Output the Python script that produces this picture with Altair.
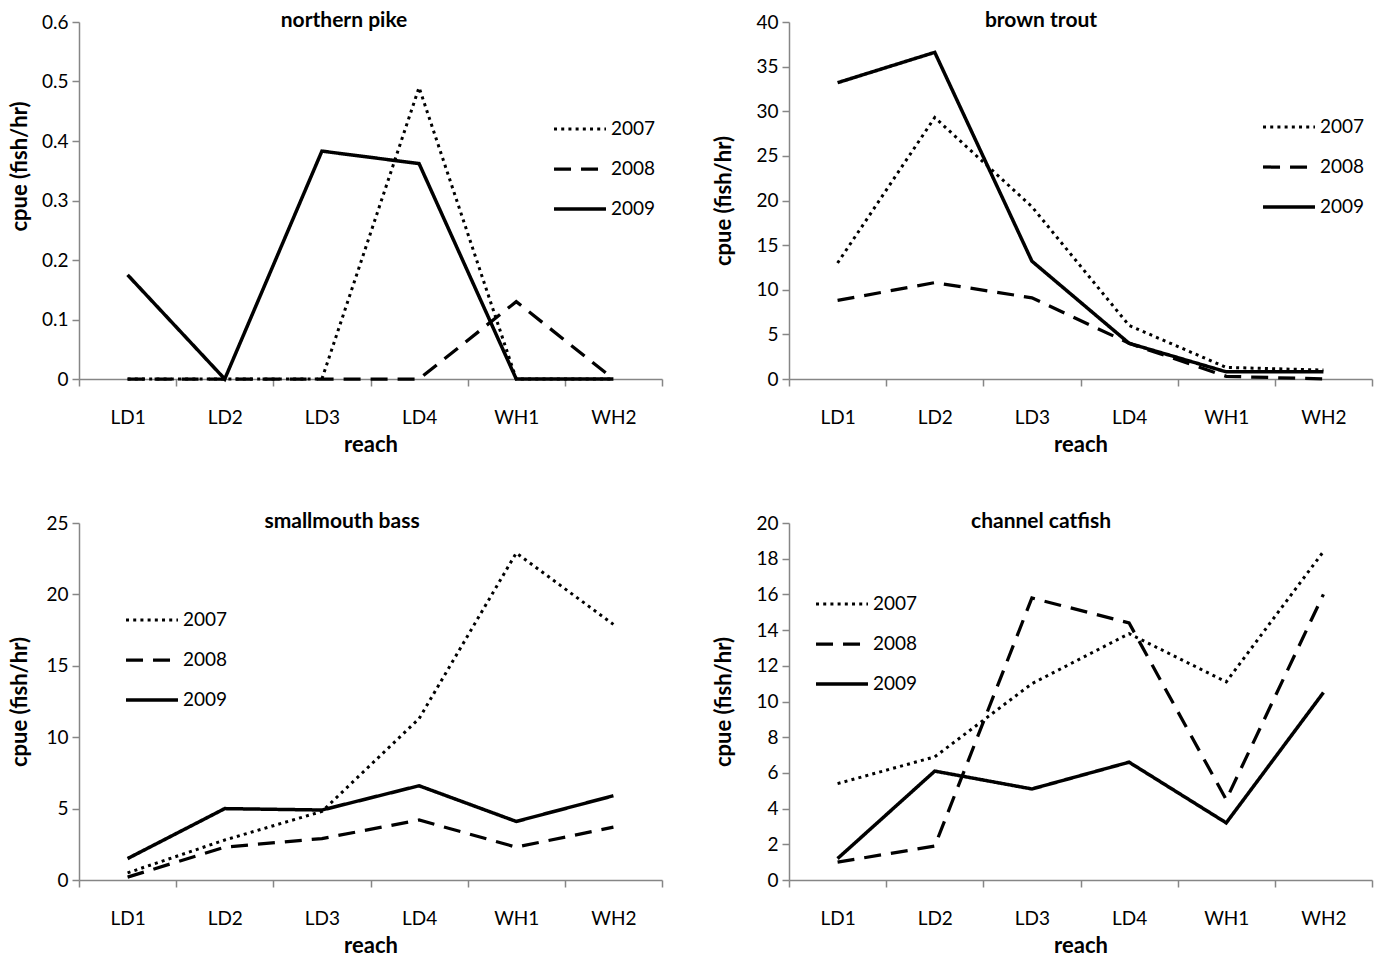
import altair as alt
import pandas as pd

reaches = ["LD1", "LD2", "LD3", "LD4", "WH1", "WH2"]
years = ["2007", "2008", "2009"]

# northern pike
pike_2007 = [0, 0, 0, 0.49, 0, 0]
pike_2008 = [0, 0, 0, 0, 0.13, 0]
pike_2009 = [0.175, 0, 0.383, 0.362, 0, 0]
pike_ticks = [0, 0.1, 0.2, 0.3, 0.4, 0.5, 0.6]

# brown trout
trout_2007 = [13.0, 29.3, 19.3, 6.0, 1.3, 1.0]
trout_2008 = [8.8, 10.8, 9.1, 4.0, 0.3, 0.0]
trout_2009 = [33.2, 36.6, 13.2, 4.0, 0.8, 0.8]
trout_ticks = [0, 5, 10, 15, 20, 25, 30, 35, 40]

# smallmouth bass
bass_2007 = [0.5, 2.8, 4.8, 11.3, 22.9, 17.9]
bass_2008 = [0.2, 2.3, 2.9, 4.2, 2.3, 3.7]
bass_2009 = [1.5, 5.0, 4.9, 6.6, 4.1, 5.9]
bass_ticks = [0, 5, 10, 15, 20, 25]

# channel catfish
cat_2007 = [5.4, 6.9, 11.0, 13.8, 11.1, 18.4]
cat_2008 = [1.0, 1.9, 15.8, 14.4, 4.5, 16.0]
cat_2009 = [1.2, 6.1, 5.1, 6.6, 3.2, 10.5]
cat_ticks = [0, 2, 4, 6, 8, 10, 12, 14, 16, 18, 20]

FONT = "Lato"
W, H = 583, 357


def panel(title, series, ticks, title_x, legend_x, legend_y, ytitle_x, ytitle_y=None):
    rows = []
    for yr, vals in zip(years, series):
        for r, v in zip(reaches, vals):
            rows.append({"reach": r, "year": yr, "cpue": v})
    df = pd.DataFrame(rows)

    yaxis_kw = dict(
        values=ticks, format="~g", title="cpue (fish/hr)", titleX=ytitle_x,
        titleBaseline="alphabetic", titleAngle=270,
    )
    if ytitle_y is not None:
        yaxis_kw["titleY"] = ytitle_y

    lines = alt.Chart(df).mark_line(color="black", strokeJoin="miter").encode(
        x=alt.X(
            "reach:N", sort=reaches, bandPosition=0.5,
            scale=alt.Scale(type="band", paddingInner=0, paddingOuter=0, domain=reaches),
            axis=alt.Axis(title="reach", labelAngle=0, tickBand="extent",
                          labelPadding=22, titleY=72, titleBaseline="alphabetic"),
        ),
        y=alt.Y("cpue:Q", scale=alt.Scale(domain=[ticks[0], ticks[-1]], nice=False),
                axis=alt.Axis(**yaxis_kw)),
        strokeDash=alt.StrokeDash(
            "year:N",
            scale=alt.Scale(domain=years, range=[[3, 4.2], [17, 10], [1, 0]]),
            legend=alt.Legend(
                title=None, orient="none", legendX=legend_x, legendY=legend_y,
                symbolType="stroke", symbolSize=2700, symbolStrokeWidth=3.2,
                symbolStrokeColor="black", clipHeight=20, rowPadding=20,
                labelFont=FONT, labelFontSize=19, labelColor="black",
                labelOffset=3, padding=0,
            ),
        ),
        strokeWidth=alt.StrokeWidth(
            "year:N", scale=alt.Scale(domain=years, range=[3, 3.5, 3]), legend=None
        ),
        order=alt.Order("reach:N"),
    )

    ttl = alt.Chart(pd.DataFrame({"t": [title]})).mark_text(
        font=FONT, fontSize=21, fontWeight="bold", color="black",
        align="center", baseline="alphabetic",
    ).encode(text="t:N", x=alt.value(title_x), y=alt.value(5))

    return alt.layer(lines, ttl).properties(width=W, height=H)


p1 = panel("northern pike", [pike_2007, pike_2008, pike_2009], pike_ticks,
           265, 473, 97, -53, 144)
p2 = panel("brown trout", [trout_2007, trout_2008, trout_2009], trout_ticks,
           252, 472, 95, -59)
p3 = panel("smallmouth bass", [bass_2007, bass_2008, bass_2009], bass_ticks,
           263, 45, 87, -53)
p4 = panel("channel catfish", [cat_2007, cat_2008, cat_2009], cat_ticks,
           252, 25, 71, -59)

chart = alt.concat(
    p1, p2, p3, p4, columns=2, spacing={"row": 144, "column": 127}, bounds="flush"
).resolve_scale(
    strokeDash="independent", strokeWidth="independent"
).resolve_legend(
    strokeDash="independent", strokeWidth="independent"
).properties(
    padding={"left": 0, "top": 2, "right": 5, "bottom": 5},
    background="white",
).configure_view(stroke=None).configure_axis(
    domainColor="#868686", domainWidth=1.5, tickColor="#868686", tickWidth=1.5,
    tickSize=7, grid=False, labelFont=FONT, labelFontSize=19, labelColor="black",
    titleFont=FONT, titleFontSize=22, titleFontWeight="bold", titleColor="black",
).configure_axisY(labelPadding=4)

chart.save("out.html", embed_options={"renderer": "svg", "actions": False})
